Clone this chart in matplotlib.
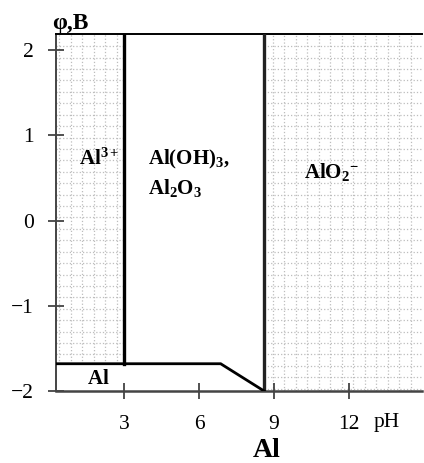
import numpy as np
import matplotlib
matplotlib.use("Agg")
import matplotlib.pyplot as plt

plt.rcParams['font.family'] = ['Liberation Serif', 'DejaVu Serif']
plt.rcParams['mathtext.fontset'] = 'custom'
plt.rcParams['mathtext.rm'] = 'Liberation Serif'
plt.rcParams['mathtext.bf'] = 'Liberation Serif:bold'
plt.rcParams['mathtext.it'] = 'Liberation Serif:italic'

# diagram boundaries (pH, potential in V)
ph_al3_hyd = 3.0          # Al3+ / Al(OH)3 boundary
ph_hyd_alo2 = 8.6         # Al(OH)3 / AlO2- boundary
al_line_ph = [0.26, 6.86, 8.6]
al_line_phi = [-1.68, -1.68, -2.0]

x_ticks = [3, 6, 9, 12]
y_ticks = [-2, -1, 0, 1, 2]
y_tick_labels = ['\u22122', '\u22121', '0', '1', '2']

region_labels = [r'$\mathbf{Al^{3+}}$', r'$\mathbf{Al(OH)_3,}$', r'$\mathbf{Al_2O_3}$',
                 r'$\mathbf{AlO_2{}^{-}}$', r'$\mathbf{Al}$']
region_x = [1.2, 3.95, 3.95, 10.2, 1.5]
region_y = [0.72, 0.72, 0.38, 0.57, -1.86]

xmin, xmax = 0.26, 14.93
ymin, ymax = -2.0, 2.19

fig = plt.figure(figsize=(4.24, 4.63), dpi=100)
ax = fig.add_axes([56 / 424, 72 / 463, (422 - 56) / 424, (391 - 34) / 463])
ax.set_xlim(xmin, xmax)
ax.set_ylim(ymin, ymax)

# dotted grid only inside the Al3+ and AlO2- fields
gstep_x, gstep_y = 0.46, 0.134
gcol = '#bdbdbd'
for gx in np.arange(0.39, ph_al3_hyd, gstep_x):
    ax.plot([gx, gx], [al_line_phi[0], ymax], ls=':', color=gcol, lw=0.9, zorder=1)
for gy in np.arange(2.047, al_line_phi[0], -gstep_y):
    ax.plot([xmin, ph_al3_hyd], [gy, gy], ls=':', color=gcol, lw=0.9, zorder=1)
for gx in np.arange(11.71, ph_hyd_alo2, -gstep_x):
    ax.plot([gx, gx], [ymin, ymax], ls=':', color=gcol, lw=0.9, zorder=1)
for gx in np.arange(11.71 + gstep_x, xmax, gstep_x):
    ax.plot([gx, gx], [ymin, ymax], ls=':', color=gcol, lw=0.9, zorder=1)
for gy in np.arange(2.047, ymin, -gstep_y):
    ax.plot([ph_hyd_alo2, xmax], [gy, gy], ls=':', color=gcol, lw=0.9, zorder=1)

# boundary lines
ax.plot([ph_al3_hyd, ph_al3_hyd], [al_line_phi[0], ymax], color='black', lw=2.4, zorder=3)
ax.plot([ph_hyd_alo2, ph_hyd_alo2], [ymin, ymax], color='#222222', lw=2.4, zorder=3)
ax.plot(al_line_ph, al_line_phi, color='black', lw=2.0, zorder=3, solid_joinstyle='miter')

for s, xs, ys in zip(region_labels, region_x, region_y):
    ax.text(xs, ys, s, fontsize=15, ha='left', va='center', zorder=4)

ax.spines['right'].set_visible(False)
ax.spines['top'].set_color('black')
ax.spines['top'].set_linewidth(1.4)
ax.spines['left'].set_color('#444444')
ax.spines['left'].set_linewidth(1.4)
ax.spines['bottom'].set_color('#444444')
ax.spines['bottom'].set_linewidth(1.8)

ax.set_xticks(x_ticks)
ax.set_yticks(y_ticks)
ax.set_yticklabels(y_tick_labels)
ax.tick_params(direction='inout', length=12, width=1.2, color='#333333',
               labelsize=15.5)
ax.tick_params(axis='y', pad=10)
ax.tick_params(axis='x', pad=11)

fig.text(52 / 424, 1 - 24 / 463, '\u03c6,\u0412', fontsize=17, fontweight='bold',
         ha='left', va='center')
fig.text(387 / 424, 1 - 423 / 463, 'pH', fontsize=15.5, ha='center', va='center')
fig.text(267 / 424, 1 - 457 / 463, 'Al', fontsize=20, fontweight='bold',
         ha='center', va='baseline')

fig.savefig('out.png', dpi=100)
